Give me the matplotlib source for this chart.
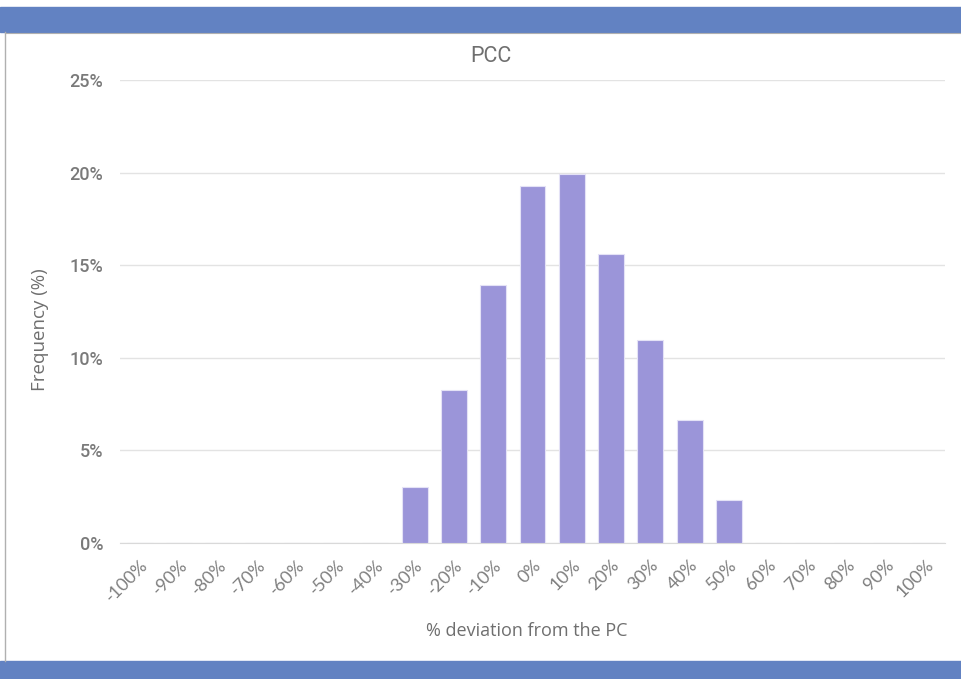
import matplotlib.pyplot as plt
from matplotlib.patches import Rectangle
from matplotlib.lines import Line2D
from matplotlib.ticker import PercentFormatter

# % deviation bins and frequency (%)
bins = [-100, -90, -80, -70, -60, -50, -40, -30, -20, -10, 0,
        10, 20, 30, 40, 50, 60, 70, 80, 90, 100]
freq = [0, 0, 0, 0, 0, 0, 0, 3.0, 8.28, 13.93, 19.28,
        19.9, 15.58, 10.96, 6.64, 2.32, 0, 0, 0, 0, 0]
tick_labels = [f"{b}%" for b in bins]

W, H = 961, 679
fig = plt.figure(figsize=(W / 100, H / 100), dpi=100)
fig.patch.set_facecolor("white")

# blue bands top and bottom, grey frame line on the left
band = "#6282c2"
fig.patches.append(Rectangle((0, 1 - 32 / H), 1, 25 / H, transform=fig.transFigure,
                             color=band, zorder=0))
fig.patches.append(Rectangle((0, 0), 1, 18 / H, transform=fig.transFigure,
                             color=band, zorder=0))
fig.lines.append(Line2D([4.5 / W, 4.5 / W], [18 / H, 1 - 32 / H],
                        transform=fig.transFigure, color="#b0b0b0", lw=1))
fig.lines.append(Line2D([4.5 / W, 1], [1 - 32.5 / H, 1 - 32.5 / H],
                        transform=fig.transFigure, color="#b0b0b0", lw=0.8))

ax = fig.add_axes([120 / W, 1 - 543 / H, 825 / W, 463 / H])
x = list(range(len(bins)))
ax.bar(x, freq, width=0.66, color="#9b95d9", edgecolor="#e4e2f6", linewidth=0.8, zorder=3)

ax.set_xlim(-0.5, len(bins) - 0.5)
ax.set_ylim(0, 25)
ax.set_yticks([0, 5, 10, 15, 20, 25])
ax.yaxis.set_major_formatter(PercentFormatter(decimals=0))
ax.grid(axis="y", color="#e3e3e3", lw=1, zorder=0)
for s in ["top", "right", "left"]:
    ax.spines[s].set_visible(False)
ax.spines["bottom"].set_color("#d9d9d9")
ax.tick_params(axis="y", length=0, pad=12, labelsize=13, labelcolor="#7a7a7a")
ax.tick_params(axis="x", length=0, pad=10)

ax.set_xticks(x)
ax.set_xticklabels(tick_labels, rotation=45, ha="right", rotation_mode="anchor",
                   fontsize=13, color="#7f7f7f", family="Lato")
for lbl in ax.get_yticklabels():
    lbl.set_family("Roboto")
    lbl.set_weight("medium")

fig.text(491 / W, 1 - 57 / H, "PCC", ha="center", va="center",
         fontsize=15.5, color="#6f6f6f", family="Roboto")
fig.text(527 / W, 1 - 631 / H, "% deviation from the PC", ha="center", va="center",
         fontsize=13, color="#6f6f6f", family="Open Sans")
fig.text(40 / W, 1 - 330 / H, "Frequency (%)", ha="center", va="center", rotation=90,
         fontsize=13.5, color="#6f6f6f", family="Open Sans")

fig.savefig("out.png", dpi=100)
